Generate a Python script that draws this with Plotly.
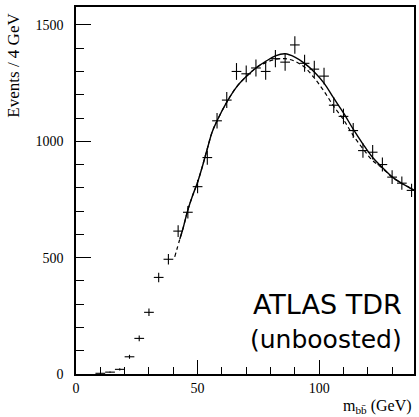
import plotly.graph_objects as go

# Measured histogram (bin centres, 4 GeV bins)
mass = [10, 14, 18, 22, 26, 30, 34, 38, 42, 46, 50, 54, 58, 62, 66, 70, 74, 78,
        82, 86, 90, 94, 98, 102, 106, 110, 114, 118, 122, 126, 130, 134, 138]
events = [3, 8, 20, 74, 153, 265, 415, 493, 614, 695, 805, 930, 1088, 1177, 1300,
          1290, 1315, 1300, 1355, 1340, 1414, 1335, 1310, 1280, 1155, 1107, 1046,
          960, 953, 900, 846, 820, 789]
event_err = [1.7, 2.8, 4.5, 8.6, 12.4, 16.3, 20.4, 22.2, 24.8, 26.4, 28.4, 30.5,
             33.0, 34.3, 36.1, 35.9, 36.3, 36.1, 36.8, 36.6, 37.6, 36.5, 36.2,
             35.8, 34.0, 33.3, 32.3, 31.0, 30.9, 30.0, 29.1, 28.6, 28.1]
bin_half = [2] * len(mass)

# Fit curves
fit_x = [42.7, 44, 46, 48, 50, 52, 54, 56, 58, 62, 66, 70, 74, 78, 82, 86, 90,
         94, 98, 102, 106, 110, 114, 118, 122, 126, 130, 134, 139]
fit_y = [580, 625, 705, 768, 824, 893, 968, 1040, 1088, 1168, 1233, 1278, 1315,
         1343, 1367, 1376, 1362, 1335, 1298, 1250, 1185, 1122, 1052, 988, 930,
         887, 847, 819, 790]

alt_x = [40.6, 42.7, 44, 46, 48, 50, 52, 54, 56, 58, 62, 66, 70, 74, 78, 82, 86,
         90, 94, 98, 102, 106, 110, 114, 118, 122, 126, 130, 134, 139]
alt_y = [503, 580, 625, 705, 768, 824, 893, 968, 1040, 1088, 1168, 1233, 1278,
         1315, 1338, 1352, 1355, 1344, 1318, 1272, 1215, 1150, 1093, 1025, 968,
         917, 884, 846, 819, 790]

fig = go.Figure()

fig.add_trace(go.Scatter(
    x=alt_x, y=alt_y, mode="lines", line_shape="spline",
    line=dict(color="black", width=1.2, dash="4px,3px"), hoverinfo="skip"))
fig.add_trace(go.Scatter(
    x=fit_x, y=fit_y, mode="lines", line_shape="spline",
    line=dict(color="black", width=1.4), hoverinfo="skip"))
fig.add_trace(go.Scatter(
    x=mass, y=events, mode="markers",
    marker=dict(size=1, color="rgba(0,0,0,0)"),
    error_y=dict(type="data", array=event_err, visible=True, width=0,
                 thickness=1.1, color="black"),
    error_x=dict(type="data", array=bin_half, visible=True, width=0,
                 thickness=1.1, color="black")))

serif = "Liberation Serif, Times New Roman, Times, serif"
fig.update_layout(
    width=419, height=417,
    margin=dict(l=76, r=3, t=7, b=43),
    paper_bgcolor="white", plot_bgcolor="white",
    showlegend=False,
    font=dict(family=serif, size=14, color="black"),
    xaxis=dict(range=[0, 139], tickvals=[0, 50, 100], ticks="inside",
               ticklen=14, tickcolor="black", tickwidth=1,
               showline=True, linecolor="black", linewidth=1.5, mirror=True,
               showgrid=False, zeroline=False,
               minor=dict(dtick=10, tick0=0, ticks="inside", ticklen=7,
                          tickcolor="black", tickwidth=1, showgrid=False),
               tickfont=dict(family=serif, size=14)),
    yaxis=dict(range=[0, 1577], tickvals=[0, 500, 1000, 1500], ticks="inside",
               ticklen=15, tickcolor="black", tickwidth=1,
               showline=True, linecolor="black", linewidth=1.5, mirror=True,
               showgrid=False, zeroline=False,
               minor=dict(dtick=100, tick0=0, ticks="inside", ticklen=8,
                          tickcolor="black", tickwidth=1, showgrid=False),
               ticklabelstandoff=8,
               tickfont=dict(family=serif, size=14)),
)

fig.add_annotation(text="Events / 4 GeV", textangle=-90,
                   xref="paper", yref="paper", x=-0.185, y=0.99,
                   xanchor="center", yanchor="top", showarrow=False,
                   font=dict(family=serif, size=17))
fig.add_annotation(text="m<sub>bb\u0304</sub> (GeV)",
                   xref="paper", yref="paper", x=1.0, y=-0.056,
                   xanchor="right", yanchor="top", showarrow=False,
                   font=dict(family=serif, size=16))
fig.add_annotation(text="ATLAS TDR", xref="paper", yref="paper",
                   x=0.97, y=0.19, xanchor="right", yanchor="middle",
                   showarrow=False, font=dict(family="DejaVu Sans", size=27))
fig.add_annotation(text="(unboosted)", xref="paper", yref="paper",
                   x=0.97, y=0.093, xanchor="right", yanchor="middle",
                   showarrow=False, font=dict(family="DejaVu Sans", size=25))

fig.write_html("out.html")
